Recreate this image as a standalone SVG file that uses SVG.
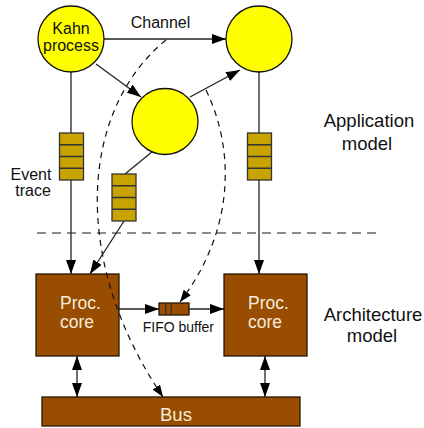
<svg xmlns="http://www.w3.org/2000/svg" width="424" height="428" viewBox="0 0 424 428">
<style>
.proc{fill:#ffff00;stroke:#111;stroke-width:1.3}
.q{fill:#c9a400;stroke:#333;stroke-width:1.3}
.qd{stroke:#333;stroke-width:1.3}
.core{fill:#994d00;stroke:#2a1500;stroke-width:1.3}
.ln{fill:none;stroke:#222;stroke-width:1.3}
.dash{fill:none;stroke:#111;stroke-width:1.2;stroke-dasharray:6,5}
.sep{fill:none;stroke:#666;stroke-width:1.6;stroke-dasharray:9,6}
text{font-family:"Liberation Sans",Arial,sans-serif;fill:#111}
.t16{font-size:16px}
.t14{font-size:14px}
.t18{font-size:18.5px}
.t17{font-size:17.5px}
.w{fill:#f6ecdc}
</style>
<defs>
<marker id="ah" markerUnits="userSpaceOnUse" markerWidth="15" markerHeight="11" refX="14" refY="5" orient="auto-start-reverse">
<path d="M0,0 L14,5 L0,10 z" fill="#000"/>
</marker>
<marker id="ahs" markerUnits="userSpaceOnUse" markerWidth="13" markerHeight="10" refX="12" refY="4.5" orient="auto">
<path d="M0,0 L12,4.5 L0,9 z" fill="#000"/>
</marker>
</defs>
<line class="sep" x1="37" y1="233" x2="382" y2="233"/>
<g id="connectors">
<path class="ln" d="M104,39 L226,39" marker-end="url(#ah)"/>
<path class="ln" d="M96,64 L141,97" marker-end="url(#ah)"/>
<path class="ln" d="M190,97 L240,70" marker-end="url(#ah)"/>
<path class="ln" d="M71,72 L71,133"/>
<path class="ln" d="M71,180 L71,274" marker-end="url(#ah)"/>
<path class="ln" d="M153,151 L125,174"/>
<path class="ln" d="M124,221 L90,274" marker-end="url(#ah)"/>
<path class="ln" d="M259,72 L259,133"/>
<path class="ln" d="M259,180 L259,274" marker-end="url(#ah)"/>
<path class="ln" d="M119,309 L159,309" marker-end="url(#ah)"/>
<path class="ln" d="M189,309 L224,309" marker-end="url(#ah)"/>
<path class="ln" d="M77,356 L77,397" marker-start="url(#ah)" marker-end="url(#ah)"/>
<path class="ln" d="M265,356 L265,397" marker-start="url(#ah)" marker-end="url(#ah)"/>
</g>
<g id="kahn"><circle class="proc" cx="71" cy="39" r="33"/>
<text class="t16" x="71" y="34" text-anchor="middle">Kahn</text>
<text class="t16" x="71" y="51" text-anchor="middle">process</text></g>
<g id="p2"><circle class="proc" cx="259" cy="39" r="33"/></g>
<g id="p3"><circle class="proc" cx="165" cy="121.5" r="33"/></g>
<g id="queue1"><rect class="q" x="59.5" y="133" width="24" height="47"/>
<path class="qd" d="M59.5,144.75 H83.5 M59.5,156.5 H83.5 M59.5,168.25 H83.5"/></g>
<g id="queue2"><rect class="q" x="112" y="174" width="24" height="47"/>
<path class="qd" d="M112,185.75 H136 M112,197.5 H136 M112,209.25 H136"/></g>
<g id="queue3"><rect class="q" x="247.5" y="133" width="24" height="47"/>
<path class="qd" d="M247.5,144.75 H271.5 M247.5,156.5 H271.5 M247.5,168.25 H271.5"/></g>
<g id="core1"><rect class="core" x="36" y="274" width="83" height="82"/>
<text class="t17 w" x="60" y="309">Proc.</text>
<text class="t17 w" x="60" y="328">core</text></g>
<g id="core2"><rect class="core" x="224" y="274" width="83" height="82"/>
<text class="t17 w" x="248" y="309">Proc.</text>
<text class="t17 w" x="248" y="328">core</text></g>
<g id="fifo"><rect class="core" x="159" y="303" width="30" height="12" stroke="#222"/>
<path class="qd" d="M165.7,303 V315 M171.3,303 V315"/></g>
<g id="bus"><rect class="core" x="42" y="397" width="258" height="29"/>
<text class="t18 w" x="160" y="421">Bus</text></g>
<g id="dashed">
<path class="dash" d="M166,40 C80,110 70,260 163,397" marker-end="url(#ahs)"/>
<path class="dash" d="M206,90 C235,150 235,230 180,302" marker-end="url(#ahs)"/>
</g>
<g id="labels">
<text class="t16" x="160.5" y="28" text-anchor="middle">Channel</text>
<text class="t16" x="31" y="180" text-anchor="middle">Event</text>
<text class="t16" x="33" y="196" text-anchor="middle">trace</text>
<text class="t14" x="142.7" y="332">FIFO buffer</text>
<text class="t18" x="369" y="127" text-anchor="middle">Application</text>
<text class="t18" x="367" y="150" text-anchor="middle">model</text>
<text class="t18" x="373" y="321" text-anchor="middle">Architecture</text>
<text class="t18" x="372" y="342" text-anchor="middle">model</text>
</g>
</svg>
